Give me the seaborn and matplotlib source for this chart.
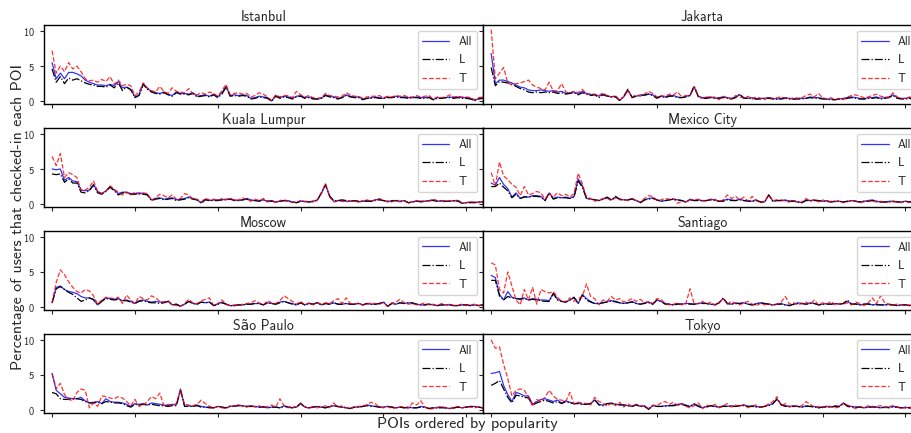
import numpy as np
import pandas as pd
import matplotlib.pyplot as plt
import seaborn as sns

cities = ['Istanbul', 'Jakarta', 'Kuala Lumpur', 'Mexico City',
          'Moscow', 'Santiago', 'São Paulo', 'Tokyo']
series_names = ['All', 'L', 'T']

istanbul_all = [5.5, 3.2, 4.0, 3.2, 4.1, 4.1, 3.9, 3.6, 3.0, 2.7,
                2.5, 2.3, 2.3, 2.2, 2.4, 2.2, 2.8, 1.9, 2.0, 1.7,
                0.6, 0.9, 2.5, 1.8, 1.4, 1.2, 1.1, 1.3, 1.0, 0.8,
                1.3, 1.1, 1.1, 1.0, 1.2, 0.7, 0.8, 0.9, 0.7, 1.0,
                0.6, 1.2, 2.1, 0.8, 0.9, 0.8, 0.9, 0.8, 0.4, 0.5,
                0.7, 0.6, 0.5, 0.0, 0.8, 0.5, 0.7, 0.6, 0.4, 0.7,
                0.8, 0.5, 0.6, 0.4, 0.3, 0.4, 0.9, 0.7, 0.6, 0.4,
                0.5, 0.9, 0.7, 0.6, 0.6, 0.3, 0.4, 0.5, 0.6, 0.5,
                0.4, 0.6, 0.5, 0.7, 0.6, 0.6, 0.5, 0.5, 0.6, 0.5,
                0.5, 0.6, 0.2, 0.5, 0.4, 0.5, 0.6, 0.5, 0.6, 0.5,
                0.5, 0.4, 0.1, 0.4, 0.5]
istanbul_l = [4.6, 2.7, 3.5, 2.5, 3.3, 3.0, 3.2, 2.9, 2.6, 2.4,
              2.3, 2.1, 2.1, 2.0, 2.3, 1.9, 2.6, 1.5, 2.0, 1.6,
              0.5, 0.8, 2.4, 1.7, 1.3, 1.1, 1.0, 1.2, 0.9, 0.7,
              1.2, 1.0, 1.0, 0.9, 1.1, 0.6, 0.7, 0.8, 0.6, 0.9,
              0.5, 1.0, 2.0, 0.7, 0.8, 0.7, 0.8, 0.7, 0.3, 0.4,
              0.6, 0.5, 0.4, 0.0, 0.7, 0.4, 0.6, 0.5, 0.3, 0.6,
              0.7, 0.4, 0.5, 0.3, 0.3, 0.4, 0.8, 0.6, 0.5, 0.3,
              0.5, 0.8, 0.6, 0.5, 0.5, 0.2, 0.4, 0.4, 0.5, 0.4,
              0.4, 0.5, 0.5, 0.6, 0.5, 0.5, 0.4, 0.5, 0.5, 0.4,
              0.4, 0.5, 0.2, 0.4, 0.4, 0.5, 0.5, 0.4, 0.5, 0.4,
              0.4, 0.3, 0.1, 0.3, 0.4]
istanbul_t = [7.2, 4.0, 5.0, 4.2, 5.5, 4.6, 5.0, 4.2, 3.2, 2.9,
              3.0, 2.7, 3.1, 2.8, 3.5, 2.4, 3.0, 2.2, 2.4, 2.2,
              0.8, 1.3, 2.6, 1.9, 1.5, 1.3, 2.1, 1.4, 1.1, 1.9,
              1.4, 1.3, 1.2, 1.8, 1.0, 0.9, 1.2, 1.0, 1.3, 1.1,
              0.7, 1.5, 2.4, 0.9, 1.1, 1.2, 1.0, 1.1, 0.6, 0.8,
              1.2, 1.0, 0.6, 0.1, 0.9, 0.6, 0.8, 0.8, 0.5, 1.4,
              0.9, 0.6, 0.8, 0.5, 0.4, 0.5, 1.1, 0.8, 0.7, 0.6,
              0.7, 1.2, 0.9, 0.7, 0.7, 0.4, 0.6, 0.7, 0.7, 0.8,
              0.5, 0.7, 0.6, 0.8, 0.7, 0.8, 0.6, 0.6, 0.8, 0.6,
              0.7, 0.8, 0.3, 0.6, 0.5, 0.6, 0.9, 0.6, 0.7, 0.6,
              0.6, 0.5, 0.2, 0.5, 0.6]

jakarta_all = [6.8, 2.5, 3.0, 3.0, 2.8, 2.6, 2.3, 2.0, 1.9, 1.6,
               1.5, 1.5, 1.6, 1.5, 1.4, 1.5, 1.3, 1.4, 1.1, 1.2,
               1.3, 1.0, 1.4, 1.1, 0.9, 1.0, 0.7, 1.0, 0.8, 0.6,
               0.7, 0.1, 0.6, 1.5, 0.6, 0.7, 0.9, 0.8, 1.0, 0.9,
               0.5, 0.7, 0.6, 0.8, 0.8, 0.6, 0.5, 0.7, 0.8, 2.0,
               0.7, 0.5, 0.5, 0.6, 0.4, 0.5, 0.6, 0.5, 0.4, 0.6,
               0.9, 0.5, 0.4, 0.5, 0.3, 0.4, 0.4, 0.5, 0.4, 0.3,
               0.4, 0.5, 0.4, 0.3, 0.4, 0.4, 0.4, 0.6, 0.5, 0.5,
               0.4, 0.3, 0.3, 0.2, 0.3, 0.4, 0.5, 0.6, 0.5, 0.4,
               0.3, 0.5, 0.5, 0.6, 0.4, 0.5, 0.6, 0.9, 0.5, 0.4,
               0.4, 0.5, 0.3, 0.4, 0.5]
jakarta_l = [4.8, 2.2, 2.8, 2.7, 2.6, 2.4, 2.1, 1.8, 1.6, 1.3,
             1.2, 1.3, 1.2, 1.3, 1.2, 1.3, 1.1, 1.2, 1.0, 1.1,
             1.2, 0.9, 1.2, 1.0, 0.8, 0.9, 0.5, 0.9, 0.7, 0.6,
             0.6, 0.1, 0.7, 1.7, 0.5, 0.7, 0.8, 0.9, 1.0, 0.8,
             0.4, 0.7, 0.5, 0.7, 0.7, 0.5, 0.5, 0.6, 0.8, 2.2,
             0.6, 0.4, 0.4, 0.5, 0.4, 0.4, 0.5, 0.4, 0.3, 0.5,
             1.0, 0.4, 0.4, 0.4, 0.3, 0.3, 0.4, 0.4, 0.3, 0.3,
             0.3, 0.4, 0.3, 0.3, 0.3, 0.3, 0.4, 0.5, 0.4, 0.4,
             0.3, 0.3, 0.2, 0.2, 0.3, 0.3, 0.4, 0.5, 0.4, 0.3,
             0.3, 0.4, 0.4, 0.5, 0.3, 0.4, 0.5, 0.8, 0.4, 0.3,
             0.3, 0.4, 0.2, 0.3, 0.4]
jakarta_t = [10.2, 3.2, 4.0, 4.8, 2.6, 2.3, 2.5, 2.6, 2.8, 3.0,
             2.3, 2.0, 1.8, 1.6, 2.7, 1.4, 1.5, 2.5, 1.3, 1.2,
             1.4, 1.2, 1.7, 1.0, 1.1, 0.9, 0.8, 1.2, 0.7, 0.6,
             0.8, 0.1, 0.7, 1.6, 0.6, 0.9, 0.7, 1.0, 1.4, 1.1,
             0.6, 0.8, 0.7, 1.0, 0.9, 1.3, 0.6, 0.8, 0.9, 2.0,
             0.7, 0.4, 0.6, 0.5, 0.6, 0.2, 0.7, 0.5, 0.3, 0.8,
             0.6, 0.4, 0.7, 0.3, 0.6, 0.4, 0.2, 0.6, 0.3, 0.5,
             0.6, 0.4, 0.3, 0.5, 0.4, 0.5, 0.8, 1.0, 0.6, 1.1,
             0.5, 0.3, 0.5, 0.2, 0.4, 0.2, 0.6, 0.8, 0.9, 0.7,
             0.5, 0.6, 0.8, 1.0, 0.7, 0.6, 0.5, 1.2, 0.6, 0.3,
             0.4, 0.6, 0.5, 0.3, 0.6]

kuala_all = [5.0, 4.9, 5.0, 3.4, 3.8, 3.3, 3.2, 2.0, 1.9, 2.0,
             2.8, 1.8, 1.5, 1.9, 2.5, 2.0, 1.5, 1.7, 1.7, 1.5,
             1.5, 1.6, 1.5, 1.4, 0.6, 0.8, 0.9, 0.7, 0.8, 0.9,
             0.6, 0.7, 0.8, 1.0, 0.8, 0.6, 0.2, 0.7, 0.5, 0.6,
             0.6, 0.6, 0.7, 0.7, 0.6, 0.5, 0.6, 0.8, 0.6, 0.5,
             0.5, 0.6, 0.4, 0.5, 0.3, 0.4, 0.5, 0.5, 0.3, 0.2,
             0.4, 0.4, 0.3, 0.4, 0.6, 1.5, 2.7, 1.2, 0.4, 0.5,
             0.5, 0.4, 0.4, 0.5, 0.3, 0.4, 0.5, 0.4, 0.6, 0.7,
             0.5, 0.4, 0.4, 0.5, 0.4, 0.5, 0.2, 0.3, 0.4, 0.3,
             0.4, 0.5, 0.6, 0.4, 0.5, 0.4, 0.4, 0.5, 0.5, 0.1,
             0.2, 0.3, 0.2, 0.3, 0.3]
kuala_l = [4.3, 4.2, 4.3, 3.1, 3.6, 3.0, 3.0, 1.7, 1.6, 1.9,
           2.7, 1.6, 1.4, 1.8, 2.4, 1.9, 1.3, 1.6, 1.6, 1.4,
           1.4, 1.5, 1.4, 1.3, 0.5, 0.7, 0.8, 0.6, 0.7, 0.8,
           0.5, 0.6, 0.7, 0.9, 0.7, 0.6, 0.1, 0.6, 0.5, 0.5,
           0.5, 0.6, 0.6, 0.7, 0.5, 0.5, 0.6, 0.7, 0.5, 0.5,
           0.4, 0.6, 0.4, 0.4, 0.3, 0.4, 0.5, 0.4, 0.3, 0.2,
           0.4, 0.4, 0.3, 0.4, 0.5, 1.6, 2.8, 1.1, 0.5, 0.5,
           0.6, 0.5, 0.4, 0.5, 0.4, 0.4, 0.4, 0.4, 0.5, 0.6,
           0.5, 0.4, 0.5, 0.5, 0.4, 0.5, 0.2, 0.3, 0.4, 0.4,
           0.4, 0.5, 0.5, 0.4, 0.4, 0.4, 0.4, 0.5, 0.4, 0.1,
           0.2, 0.2, 0.2, 0.3, 0.3]
kuala_t = [6.8, 5.5, 7.2, 3.8, 4.5, 4.2, 3.8, 2.0, 2.0, 2.4,
           3.3, 1.8, 1.5, 1.8, 2.6, 2.1, 1.7, 1.3, 1.7, 1.3,
           1.7, 1.4, 1.6, 1.5, 0.5, 0.9, 1.4, 1.2, 0.9, 1.3,
           0.7, 0.8, 1.5, 1.3, 0.7, 0.7, 0.3, 0.8, 0.6, 0.7,
           0.5, 0.8, 0.6, 0.9, 0.5, 0.6, 0.9, 0.6, 0.4, 0.7,
           0.5, 0.8, 0.3, 0.5, 0.2, 0.5, 0.6, 0.4, 0.2, 0.3,
           0.5, 0.3, 0.4, 0.3, 0.5, 1.6, 2.9, 1.0, 0.3, 0.4,
           0.4, 0.3, 0.5, 0.4, 0.3, 0.5, 0.6, 0.4, 0.6, 0.8,
           0.5, 0.3, 0.3, 0.6, 0.3, 0.5, 0.1, 0.4, 0.5, 0.3,
           0.4, 0.4, 0.7, 0.5, 0.4, 0.3, 0.5, 0.4, 0.6, 0.1,
           0.2, 0.3, 0.3, 0.2, 0.4]

mexico_all = [3.0, 2.7, 3.8, 2.8, 2.2, 1.0, 1.6, 0.8, 1.1, 1.0,
              1.2, 1.2, 1.1, 0.5, 1.6, 0.8, 1.0, 0.9, 1.0, 0.8,
              1.1, 3.6, 2.6, 0.8, 0.7, 0.6, 0.5, 0.7, 0.9, 0.6,
              1.0, 0.7, 0.6, 0.6, 0.8, 0.5, 0.2, 0.6, 0.8, 0.9,
              0.6, 0.4, 0.5, 0.6, 0.7, 0.6, 0.5, 0.3, 0.7, 0.5,
              0.6, 0.5, 0.5, 0.7, 0.6, 0.4, 0.5, 0.7, 0.6, 0.5,
              0.7, 0.5, 0.5, 0.4, 0.6, 0.3, 0.3, 1.3, 0.4, 0.5,
              0.5, 0.6, 0.4, 0.5, 0.3, 0.2, 0.6, 0.5, 0.6, 0.5,
              0.4, 0.5, 0.3, 0.4, 0.4, 0.3, 0.4, 0.5, 0.4, 0.3,
              0.4, 0.5, 0.6, 0.4, 0.3, 0.3, 0.4, 0.4, 0.3, 0.3,
              0.4, 0.3, 0.4, 0.5, 0.4]
mexico_l = [2.5, 2.5, 3.0, 2.4, 1.9, 0.9, 1.4, 0.8, 1.0, 1.0,
            1.1, 1.1, 1.0, 0.5, 1.6, 0.7, 0.9, 0.9, 0.9, 0.8,
            1.0, 3.3, 2.4, 0.8, 0.7, 0.6, 0.5, 0.7, 1.0, 0.6,
            1.1, 0.7, 0.6, 0.6, 0.7, 0.5, 0.2, 0.6, 0.7, 0.8,
            0.6, 0.4, 0.5, 0.6, 0.7, 0.6, 0.5, 0.3, 0.6, 0.5,
            0.5, 0.5, 0.5, 0.6, 0.5, 0.4, 0.4, 0.6, 0.5, 0.5,
            0.6, 0.5, 0.4, 0.4, 0.5, 0.3, 0.3, 1.3, 0.4, 0.5,
            0.5, 0.5, 0.4, 0.4, 0.3, 0.2, 0.5, 0.5, 0.5, 0.5,
            0.4, 0.4, 0.3, 0.4, 0.4, 0.3, 0.4, 0.5, 0.4, 0.3,
            0.4, 0.4, 0.5, 0.4, 0.3, 0.3, 0.3, 0.4, 0.3, 0.3,
            0.4, 0.3, 0.4, 0.4, 0.4]
mexico_t = [4.5, 2.6, 6.0, 4.0, 3.5, 2.8, 2.4, 1.2, 2.5, 1.3,
            1.5, 1.8, 1.6, 0.7, 1.5, 1.0, 1.6, 1.2, 1.4, 1.0,
            1.5, 4.4, 2.9, 1.0, 0.8, 0.4, 0.6, 0.8, 0.8, 0.5,
            0.9, 0.6, 0.6, 0.5, 0.8, 0.5, 0.3, 0.8, 1.2, 1.1,
            0.5, 0.6, 0.8, 0.7, 0.8, 0.1, 0.4, 0.3, 0.6, 0.6,
            0.7, 0.4, 0.5, 0.6, 0.7, 0.3, 0.6, 1.3, 0.8, 1.1,
            0.6, 1.0, 0.4, 1.1, 0.5, 0.2, 0.4, 1.3, 0.5, 0.6,
            0.6, 0.4, 0.3, 0.5, 0.2, 0.3, 0.8, 0.4, 0.6, 0.3,
            0.6, 0.3, 0.4, 0.3, 0.5, 0.2, 0.3, 0.5, 0.4, 0.2,
            0.3, 0.5, 0.4, 0.3, 0.4, 0.2, 0.3, 0.3, 0.4, 0.2,
            0.4, 0.2, 0.3, 0.6, 0.5]

moscow_all = [0.6, 2.8, 3.0, 2.5, 2.2, 2.1, 1.9, 1.5, 1.3, 1.3,
              1.0, 0.3, 0.9, 1.3, 1.2, 1.1, 1.2, 0.9, 1.0, 0.8,
              0.5, 0.9, 1.0, 0.8, 0.7, 0.8, 0.7, 0.7, 0.8, 0.3,
              0.4, 0.1, 0.4, 0.8, 0.5, 0.4, 0.7, 0.6, 0.7, 0.2,
              0.4, 0.7, 0.4, 0.2, 0.2, 0.3, 0.3, 0.4, 0.4, 0.5,
              0.5, 0.3, 0.6, 0.5, 0.4, 0.7, 0.8, 0.6, 0.5, 0.3,
              0.6, 0.3, 0.5, 0.4, 0.6, 0.3, 0.5, 0.4, 0.6, 0.4,
              0.4, 0.5, 0.4, 0.4, 0.5, 0.3, 0.5, 0.4, 0.4, 0.5,
              0.7, 0.1, 0.5, 0.4, 0.6, 0.5, 0.6, 0.5, 0.4, 0.3,
              0.3, 0.4, 0.3, 0.2, 0.3, 0.3, 0.3, 0.2, 0.2, 0.3,
              0.3, 0.2, 0.3, 0.2, 0.3]
moscow_l = [0.6, 2.6, 2.9, 2.5, 2.1, 1.8, 1.3, 0.8, 1.0, 1.3,
            1.1, 0.3, 0.8, 1.2, 1.1, 1.0, 1.1, 0.9, 0.9, 0.7,
            0.5, 0.8, 0.9, 0.7, 0.6, 0.6, 0.5, 0.6, 0.8, 0.3,
            0.4, 0.1, 0.4, 0.8, 0.5, 0.4, 0.7, 0.6, 0.7, 0.2,
            0.4, 0.6, 0.4, 0.2, 0.2, 0.3, 0.3, 0.4, 0.4, 0.5,
            0.5, 0.3, 0.6, 0.5, 0.4, 0.6, 0.8, 0.6, 0.4, 0.3,
            0.6, 0.3, 0.5, 0.4, 0.6, 0.3, 0.5, 0.4, 0.6, 0.4,
            0.4, 0.5, 0.4, 0.4, 0.5, 0.3, 0.5, 0.4, 0.4, 0.5,
            0.7, 0.1, 0.5, 0.4, 0.6, 0.5, 0.6, 0.6, 0.4, 0.3,
            0.3, 0.4, 0.3, 0.2, 0.3, 0.3, 0.3, 0.2, 0.2, 0.3,
            0.3, 0.2, 0.3, 0.2, 0.3]
moscow_t = [0.6, 3.5, 5.3, 4.6, 3.6, 2.8, 2.2, 2.0, 2.5, 2.3,
            1.6, 0.4, 1.0, 1.4, 1.3, 1.2, 1.4, 0.5, 1.7, 1.0,
            0.5, 1.5, 1.2, 1.0, 1.6, 1.3, 0.8, 0.7, 0.9, 0.4,
            0.2, 0.1, 0.5, 1.1, 0.6, 0.5, 0.9, 1.1, 1.3, 0.2,
            0.5, 1.0, 0.4, 0.2, 0.3, 0.2, 0.4, 0.5, 0.6, 0.9,
            0.6, 0.3, 0.9, 0.6, 0.5, 0.9, 1.6, 1.2, 0.8, 0.4,
            0.8, 0.3, 0.6, 0.3, 0.7, 0.4, 0.6, 0.5, 0.9, 1.2,
            0.5, 1.3, 0.5, 0.4, 0.6, 0.3, 0.4, 0.6, 0.5, 0.4,
            0.6, 0.1, 0.6, 0.7, 1.1, 0.6, 0.4, 0.5, 0.3, 0.4,
            0.6, 0.3, 0.4, 0.2, 0.5, 0.3, 0.4, 0.2, 0.3, 0.4,
            0.2, 0.3, 0.4, 0.2, 0.3]

santiago_all = [4.5, 4.2, 1.8, 1.0, 2.2, 1.4, 1.2, 1.2, 1.3, 1.0,
                1.2, 1.1, 1.0, 1.0, 0.9, 2.0, 1.1, 0.8, 0.7, 1.0,
                1.3, 0.5, 1.8, 1.2, 0.8, 0.5, 0.5, 0.6, 0.8, 0.9,
                0.7, 0.6, 0.5, 0.6, 0.8, 0.5, 0.4, 0.6, 0.7, 0.4,
                1.0, 0.8, 0.5, 0.4, 0.3, 0.5, 0.4, 0.5, 0.5, 0.4,
                0.5, 0.6, 0.5, 0.4, 0.3, 0.6, 1.2, 0.5, 0.4, 0.6,
                0.5, 0.6, 0.4, 0.3, 0.5, 0.6, 0.5, 0.4, 0.3, 0.4,
                0.5, 0.3, 0.2, 0.4, 0.6, 0.5, 0.4, 0.6, 0.5, 0.3,
                0.4, 0.5, 0.4, 0.5, 0.4, 0.5, 0.8, 0.4, 0.5, 0.3,
                0.4, 0.5, 0.3, 0.4, 0.3, 0.3, 0.4, 0.3, 0.2, 0.3,
                0.3, 0.2, 0.3, 0.2, 0.2]
santiago_l = [3.8, 3.8, 1.6, 1.0, 1.5, 1.3, 1.2, 1.1, 1.2, 1.0,
              1.1, 1.0, 0.9, 0.8, 0.8, 1.9, 1.0, 0.8, 0.7, 1.0,
              1.4, 0.5, 1.7, 1.0, 0.7, 0.5, 0.5, 0.6, 0.7, 0.9,
              0.8, 0.6, 0.5, 0.6, 0.7, 0.5, 0.4, 0.5, 0.6, 0.4,
              1.0, 0.8, 0.4, 0.4, 0.3, 0.4, 0.4, 0.5, 0.4, 0.4,
              0.5, 0.5, 0.5, 0.4, 0.3, 0.6, 1.3, 0.5, 0.4, 0.5,
              0.5, 0.6, 0.4, 0.3, 0.4, 0.6, 0.5, 0.4, 0.3, 0.4,
              0.4, 0.3, 0.2, 0.4, 0.5, 0.5, 0.4, 0.5, 0.5, 0.3,
              0.4, 0.4, 0.4, 0.5, 0.4, 0.5, 1.0, 0.4, 0.4, 0.3,
              0.4, 0.4, 0.3, 0.3, 0.3, 0.3, 0.3, 0.3, 0.2, 0.3,
              0.3, 0.2, 0.2, 0.2, 0.2]
santiago_t = [6.3, 6.0, 2.5, 2.0, 5.0, 3.0, 1.0, 0.3, 2.5, 1.0,
              2.8, 0.4, 2.5, 2.2, 2.0, 2.2, 1.4, 0.8, 0.8, 1.3,
              0.8, 1.2, 1.5, 3.3, 1.5, 1.2, 0.3, 1.0, 0.8, 1.5,
              1.0, 1.2, 0.7, 0.9, 1.2, 0.8, 1.1, 0.6, 0.8, 0.5,
              1.2, 1.1, 0.5, 0.3, 0.4, 0.6, 0.3, 0.5, 2.6, 0.4,
              0.5, 0.8, 0.4, 0.7, 0.3, 0.6, 1.2, 0.4, 0.8, 0.5,
              0.3, 0.6, 0.8, 0.4, 0.2, 0.5, 0.3, 0.5, 0.2, 0.4,
              0.7, 1.5, 0.4, 0.6, 0.3, 0.5, 0.7, 0.4, 1.0, 0.3,
              0.6, 0.4, 0.8, 0.3, 0.5, 0.4, 0.6, 0.3, 0.7, 0.5,
              0.2, 0.6, 1.3, 0.5, 1.6, 0.6, 0.4, 0.3, 0.4, 0.3,
              0.2, 0.3, 0.2, 0.3, 0.2]

saopaulo_all = [5.2, 2.8, 2.3, 1.8, 1.7, 1.6, 1.6, 1.8, 1.3, 1.0,
                1.1, 1.2, 0.9, 1.6, 1.2, 1.1, 1.1, 1.0, 0.8, 0.5,
                0.9, 0.8, 0.9, 0.7, 1.0, 0.9, 0.8, 0.7, 0.6, 0.8,
                0.7, 3.0, 0.5, 0.6, 0.5, 0.7, 0.5, 0.4, 0.4, 0.3,
                0.5, 0.4, 0.3, 0.5, 0.6, 0.7, 0.6, 0.5, 0.6, 0.5,
                0.4, 0.5, 0.3, 0.4, 0.4, 0.3, 0.6, 0.4, 0.3, 0.4,
                1.0, 0.4, 0.3, 0.4, 0.5, 0.4, 0.3, 0.5, 0.6, 0.5,
                0.4, 0.3, 0.2, 0.4, 0.4, 0.5, 0.7, 0.6, 0.5, 0.4,
                0.4, 0.5, 0.4, 0.3, 0.4, 0.3, 0.4, 0.3, 0.3, 0.5,
                0.4, 0.2, 0.3, 0.3, 0.4, 0.3, 0.2, 0.3, 0.4, 0.3,
                0.4, 0.5, 0.5, 0.4, 0.3]
saopaulo_l = [2.5, 2.3, 1.6, 1.5, 1.5, 1.6, 1.6, 1.5, 1.2, 1.0,
              1.0, 1.1, 0.9, 1.2, 1.1, 1.0, 1.0, 0.9, 0.6, 0.4,
              0.8, 0.7, 0.8, 0.7, 0.8, 0.7, 0.6, 0.6, 0.5, 0.6,
              0.6, 2.8, 0.5, 0.5, 0.5, 0.6, 0.4, 0.4, 0.3, 0.3,
              0.5, 0.4, 0.3, 0.5, 0.5, 0.6, 0.6, 0.5, 0.5, 0.5,
              0.4, 0.4, 0.3, 0.4, 0.4, 0.3, 0.5, 0.4, 0.3, 0.4,
              0.9, 0.4, 0.3, 0.4, 0.5, 0.4, 0.3, 0.5, 0.6, 0.5,
              0.4, 0.3, 0.2, 0.4, 0.4, 0.5, 0.6, 0.5, 0.5, 0.4,
              0.4, 0.5, 0.4, 0.3, 0.4, 0.3, 0.4, 0.3, 0.3, 0.4,
              0.4, 0.2, 0.3, 0.3, 0.3, 0.3, 0.2, 0.3, 0.4, 0.3,
              0.4, 0.5, 0.4, 0.4, 0.3]
saopaulo_t = [5.2, 3.0, 3.8, 2.2, 1.5, 1.3, 2.5, 3.0, 2.8, 0.3,
              1.0, 0.5, 2.0, 1.9, 1.7, 1.6, 1.9, 1.7, 1.2, 0.6,
              1.5, 0.5, 0.7, 1.2, 1.9, 1.6, 2.4, 0.6, 0.8, 0.7,
              0.9, 2.8, 0.8, 0.7, 0.6, 0.8, 1.4, 0.9, 0.5, 0.3,
              0.5, 0.3, 0.2, 0.6, 0.5, 0.7, 0.5, 0.4, 0.6, 0.4,
              0.6, 0.3, 0.5, 0.7, 0.4, 1.6, 0.6, 0.3, 0.5, 0.4,
              0.9, 0.5, 0.2, 0.5, 0.3, 0.4, 0.6, 0.3, 1.0, 0.4,
              0.6, 0.3, 0.2, 0.5, 0.5, 0.6, 0.7, 1.1, 0.9, 0.4,
              0.3, 0.5, 0.2, 0.3, 0.5, 0.4, 0.2, 1.0, 0.7, 1.3,
              0.4, 0.1, 0.2, 0.4, 0.5, 0.3, 0.2, 0.4, 0.5, 0.3,
              0.5, 0.4, 0.3, 0.5, 0.2]

tokyo_all = [5.2, 5.3, 5.5, 3.5, 2.2, 1.2, 2.5, 2.3, 2.0, 2.0,
             0.8, 1.2, 1.5, 1.6, 1.4, 1.2, 1.4, 1.0, 1.3, 1.1,
             0.9, 1.0, 0.8, 0.8, 0.9, 1.4, 0.8, 0.7, 0.9, 1.0,
             0.8, 0.8, 0.7, 0.6, 0.5, 0.8, 0.5, 0.6, 0.1, 0.6,
             0.5, 0.5, 0.6, 0.6, 0.7, 0.8, 0.9, 0.7, 0.5, 0.9,
             0.6, 0.3, 0.5, 0.6, 0.5, 0.4, 0.6, 0.5, 0.6, 0.5,
             0.6, 0.7, 0.5, 0.6, 0.5, 0.4, 0.5, 0.7, 0.9, 1.5,
             0.8, 0.6, 0.5, 0.6, 0.5, 0.4, 0.6, 0.5, 0.5, 0.3,
             0.4, 0.5, 0.4, 0.6, 0.5, 1.0, 0.6, 0.5, 0.4, 0.4,
             0.3, 0.4, 0.5, 0.4, 0.3, 0.4, 0.4, 0.5, 0.4, 0.3,
             0.4, 0.3, 0.3, 0.4, 0.4]
tokyo_l = [3.5, 3.8, 4.2, 3.0, 1.8, 1.0, 2.1, 2.0, 1.8, 1.7,
           0.7, 1.0, 1.2, 1.4, 1.2, 1.0, 1.2, 0.9, 1.2, 1.0,
           0.9, 0.9, 0.8, 0.8, 0.9, 1.5, 0.7, 0.6, 0.9, 0.9,
           0.8, 0.7, 0.7, 0.6, 0.5, 0.7, 0.5, 0.5, 0.1, 0.6,
           0.5, 0.5, 0.5, 0.6, 0.6, 0.7, 0.8, 0.6, 0.5, 0.8,
           0.5, 0.3, 0.4, 0.6, 0.5, 0.4, 0.5, 0.5, 0.5, 0.5,
           0.6, 0.6, 0.5, 0.5, 0.4, 0.4, 0.5, 0.6, 0.9, 1.6,
           0.7, 0.5, 0.5, 0.5, 0.5, 0.4, 0.5, 0.5, 0.4, 0.3,
           0.4, 0.4, 0.4, 0.5, 0.5, 1.0, 0.5, 0.4, 0.4, 0.4,
           0.3, 0.4, 0.4, 0.4, 0.3, 0.4, 0.3, 0.4, 0.4, 0.3,
           0.3, 0.3, 0.3, 0.3, 0.4]
tokyo_t = [10.0, 8.8, 9.0, 6.5, 4.5, 2.0, 2.8, 3.0, 2.8, 1.8,
           0.5, 1.5, 1.2, 1.8, 2.8, 2.0, 1.5, 1.4, 1.2, 2.5,
           0.8, 1.1, 1.0, 0.9, 0.7, 1.8, 1.2, 1.0, 0.5, 1.0,
           0.6, 1.1, 0.4, 0.9, 0.5, 0.8, 0.6, 0.5, 0.2, 0.7,
           0.6, 1.0, 1.2, 0.8, 1.1, 0.6, 0.9, 0.5, 0.3, 0.6,
           1.0, 0.2, 0.7, 0.5, 0.8, 0.3, 0.6, 0.9, 0.4, 0.7,
           0.5, 0.8, 0.3, 0.6, 0.7, 0.4, 0.5, 0.9, 1.2, 1.9,
           0.6, 0.9, 0.4, 0.6, 0.5, 0.6, 1.2, 0.8, 0.4, 0.5,
           0.3, 0.6, 0.5, 0.3, 0.4, 0.9, 0.7, 0.4, 0.2, 0.5,
           0.3, 0.6, 0.4, 0.5, 0.6, 0.3, 0.5, 0.6, 0.4, 0.2,
           0.3, 0.4, 0.2, 0.3, 0.4]

city_series = {
    'Istanbul': (istanbul_all, istanbul_l, istanbul_t),
    'Jakarta': (jakarta_all, jakarta_l, jakarta_t),
    'Kuala Lumpur': (kuala_all, kuala_l, kuala_t),
    'Mexico City': (mexico_all, mexico_l, mexico_t),
    'Moscow': (moscow_all, moscow_l, moscow_t),
    'Santiago': (santiago_all, santiago_l, santiago_t),
    'São Paulo': (saopaulo_all, saopaulo_l, saopaulo_t),
    'Tokyo': (tokyo_all, tokyo_l, tokyo_t),
}

styles = {'All': dict(color='blue', linestyle='-', alpha=0.8),
          'L': dict(color='black', linestyle='-.', alpha=1.0),
          'T': dict(color='red', linestyle='--', alpha=0.8)}

sns.set_style("ticks")
plt.rcParams['font.family'] = ['cmss10', 'DejaVu Sans']
plt.rcParams['axes.formatter.use_mathtext'] = True

fig, axes = plt.subplots(4, 2, figsize=(9.12, 4.33), dpi=100, sharex=True, sharey=True)
fig.subplots_adjust(left=0.048, right=1.011, top=0.942, bottom=0.046, wspace=0, hspace=0.30)

for ax, city in zip(axes.flat, cities):
    for name, vals in zip(series_names, city_series[city]):
        x = np.arange(len(vals))
        sns.lineplot(x=x, y=vals, ax=ax, label=name, linewidth=0.9, **styles[name])
    ax.set_title(city, fontsize=10, pad=3)
    ax.set_xlim(-2, 104)
    ax.set_ylim(-0.45, 10.85)
    ax.set_xticks(range(0, 101, 20))
    ax.set_yticks([0, 5, 10])
    ax.tick_params(direction='out', length=3, width=0.8, labelsize=7.5, labelbottom=False)
    for s in ax.spines.values():
        s.set_linewidth(1.0)
        s.set_color('black')
    ax.set_xlabel('')
    ax.set_ylabel('')
    ax.legend(loc='upper right', fontsize=8.5, handlelength=2.3, labelspacing=0.55)

fig.text(0.02, 0.5, 'Percentage of users that checked-in each POI',
         rotation=90, va='center', ha='center', fontsize=11.5)
fig.text(0.512, 0.02, 'POIs ordered by popularity', ha='center', va='center', fontsize=11.5)

fig.savefig('out.png', dpi=100)
